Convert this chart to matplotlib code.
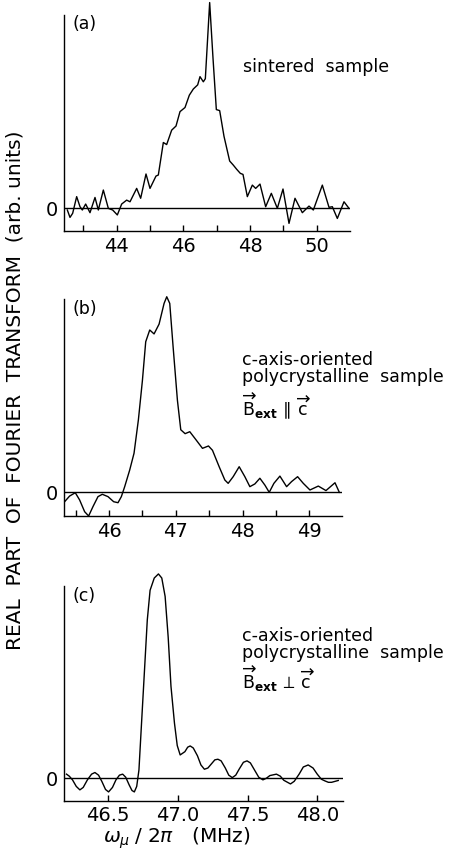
import numpy as np
import matplotlib
matplotlib.use("Agg")
import matplotlib.pyplot as plt
from matplotlib.ticker import FixedLocator

plt.rcParams['font.family'] = ['DejaVu Sans']
plt.rcParams['mathtext.fontset'] = 'dejavusans'

# (a) sintered sample
a_x = [42.52, 42.60, 42.68, 42.80, 42.90, 42.97, 43.07, 43.20, 43.35, 43.45,
       43.60, 43.75, 43.88, 44.02, 44.15, 44.30, 44.40, 44.60, 44.72, 44.88,
       45.00, 45.18, 45.25, 45.40, 45.50, 45.65, 45.78, 45.90, 46.05, 46.18,
       46.30, 46.43, 46.50, 46.60, 46.66, 46.79, 46.89, 46.99, 47.09, 47.22,
       47.39, 47.50, 47.60, 47.71, 47.79, 47.92, 48.07, 48.17, 48.30, 48.47,
       48.64, 48.82, 48.99, 49.17, 49.35, 49.57, 49.77, 49.90, 50.17, 50.37,
       50.47, 50.62, 50.82, 50.97]
a_y = [-0.008, -0.044, -0.024, 0.057, 0.008, -0.008, 0.021, -0.021, 0.053, -0.008,
       0.089, 0.0, -0.008, -0.032, 0.021, 0.040, 0.032, 0.097, 0.049, 0.167,
       0.097, 0.157, 0.162, 0.32, 0.31, 0.38, 0.40, 0.47, 0.49, 0.55,
       0.58, 0.60, 0.64, 0.615, 0.63, 1.0, 0.73, 0.48, 0.475, 0.35,
       0.23, 0.21, 0.19, 0.17, 0.165, 0.057, 0.113, 0.097, 0.118, 0.008,
       0.073, 0.0, 0.094, -0.073, 0.049, -0.021, 0.011, -0.008, 0.113, 0.005,
       0.008, -0.049, 0.032, 0.0]

# (b) c-axis oriented, B_ext || c
b_x = [45.335, 45.41, 45.495, 45.56, 45.635, 45.695, 45.76, 45.835, 45.90, 45.985,
       46.07, 46.135, 46.185, 46.235, 46.31, 46.375, 46.44, 46.50, 46.55, 46.61,
       46.675, 46.75, 46.825, 46.865, 46.91, 46.96, 47.025, 47.075, 47.14, 47.21,
       47.30, 47.40, 47.49, 47.55, 47.65, 47.735, 47.785, 47.86, 47.95, 48.035,
       48.11, 48.185, 48.26, 48.335, 48.40, 48.47, 48.56, 48.66, 48.735, 48.825,
       48.91, 49.01, 49.135, 49.25, 49.385, 49.45]
b_y = [-0.048, -0.019, -0.002, -0.039, -0.099, -0.121, -0.073, -0.022, -0.010, -0.022,
       -0.048, -0.053, -0.022, 0.029, 0.114, 0.20, 0.37, 0.57, 0.77, 0.83,
       0.81, 0.86, 0.966, 1.0, 0.966, 0.745, 0.47, 0.32, 0.30, 0.31,
       0.27, 0.225, 0.237, 0.215, 0.131, 0.063, 0.046, 0.08, 0.131, 0.08,
       0.029, 0.043, 0.072, 0.037, 0.0, 0.046, 0.083, 0.029, 0.055, 0.08,
       0.046, 0.012, 0.032, 0.009, 0.049, 0.0]

# (c) c-axis oriented, B_ext perp c
c_x = [46.20, 46.22, 46.243, 46.27, 46.296, 46.32, 46.35, 46.38, 46.404, 46.43,
       46.454, 46.48, 46.502, 46.53, 46.555, 46.58, 46.603, 46.625, 46.65, 46.67,
       46.687, 46.704, 46.72, 46.736, 46.76, 46.78, 46.80, 46.83, 46.86, 46.884,
       46.908, 46.93, 46.95, 46.975, 46.995, 47.016, 47.05, 47.07, 47.088, 47.11,
       47.14, 47.165, 47.19, 47.215, 47.24, 47.265, 47.287, 47.31, 47.34, 47.365,
       47.39, 47.415, 47.44, 47.47, 47.496, 47.52, 47.55, 47.58, 47.61, 47.635,
       47.66, 47.707, 47.735, 47.76, 47.808, 47.835, 47.87, 47.90, 47.935, 47.97,
       48.0, 48.03, 48.055, 48.08, 48.103, 48.151]
c_y = [0.02, 0.01, -0.008, -0.04, -0.057, -0.045, -0.008, 0.02, 0.028, 0.015,
       -0.016, -0.055, -0.067, -0.045, -0.008, 0.015, 0.02, 0.005, -0.033, -0.06,
       -0.067, -0.04, 0.04, 0.237, 0.53, 0.775, 0.92, 0.98, 1.0, 0.98,
       0.89, 0.69, 0.45, 0.27, 0.16, 0.114, 0.13, 0.152, 0.158, 0.148,
       0.11, 0.065, 0.044, 0.05, 0.07, 0.09, 0.093, 0.085, 0.05, 0.015,
       0.003, 0.015, 0.045, 0.078, 0.085, 0.075, 0.04, 0.005, -0.008, 0.0,
       0.013, 0.02, 0.01, -0.01, -0.028, -0.015, 0.02, 0.055, 0.065, 0.05,
       0.02, -0.005, -0.013, -0.02, -0.02, -0.011]

a_ticks = [43, 44, 45, 46, 47, 48, 49, 50]
a_labels = ['', '44', '', '46', '', '48', '', '50']
b_ticks = [45.5, 46, 46.5, 47, 47.5, 48, 48.5, 49]
b_labels = ['', '46', '', '47', '', '48', '', '49']
c_ticks = [46.5, 47.0, 47.5, 48.0]
c_labels = ['46.5', '47.0', '47.5', '48.0']

W, H = 453, 860
fig = plt.figure(figsize=(W / 100, H / 100), dpi=100)

def px_axes(left, right, bottom, top):
    return fig.add_axes([left / W, 1 - bottom / H, (right - left) / W, (bottom - top) / H])

panels = [
    (px_axes(64, 350, 231, 0.5), a_x, a_y, (42.42, 51.0), (-0.11, 1.01), 0.94, a_ticks, a_labels),
    (px_axes(64, 342, 516, 294.8), b_x, b_y, (45.326, 49.49), (-0.121, 1.01), 0.99, b_ticks, b_labels),
    (px_axes(64, 343, 800.7, 571.9), c_x, c_y, (46.182, 48.185), (-0.11, 1.01), 0.94, c_ticks, c_labels),
]

for ax, x, y, xl, yl, ytop, ticks, labels in panels:
    ax.plot(x, y, color='black', lw=1.0, solid_joinstyle='round')
    ax.axhline(0, color='black', lw=1.0)
    ax.set_xlim(*xl)
    ax.set_ylim(*yl)
    for s in ['top', 'right']:
        ax.spines[s].set_visible(False)
    ax.spines['left'].set_bounds(yl[0], ytop)
    ax.spines['left'].set_linewidth(1.0)
    ax.spines['bottom'].set_linewidth(1.0)
    ax.xaxis.set_major_locator(FixedLocator(ticks))
    ax.set_xticklabels(labels)
    ax.tick_params(axis='x', direction='in', length=4, width=1.0, labelsize=14, pad=4)
    ax.set_yticks([0])
    ax.set_yticklabels(['0'])
    ax.tick_params(axis='y', length=0, labelsize=14, pad=4)
    ax.patch.set_visible(False)

fs = 12.5
def ftext(x, y, s, size=fs, **kw):
    fig.text(x / W, 1 - y / H, s, fontsize=size, **kw)

ftext(72, 24, '(a)', va='center')
ftext(72, 309, '(b)', va='center')
ftext(72, 596, '(c)', va='center')

ftext(243, 71.5, 'sintered  sample', va='baseline')

ftext(242, 382, 'c-axis-oriented\npolycrystalline  sample', va='baseline', linespacing=0.95)
ftext(242, 415, r'$\overrightarrow{\mathrm{B}}_{\mathbf{ext}}\,\parallel\,\overrightarrow{\mathrm{c}}$', va='baseline')

ftext(242, 658, 'c-axis-oriented\npolycrystalline  sample', va='baseline', linespacing=0.95)
ftext(242, 689, r'$\overrightarrow{\mathrm{B}}_{\mathbf{ext}}\,\perp\,\overrightarrow{\mathrm{c}}$', va='baseline')

ftext(177, 838, r'$\omega_\mu\;/\;2\pi\ \ $ (MHz)', size=14.5, va='center', ha='center')
ftext(15, 390, 'REAL  PART  OF  FOURIER  TRANSFORM  (arb. units)', size=14.5,
      va='center', ha='center', rotation=90)

fig.savefig('out.png', dpi=100)
